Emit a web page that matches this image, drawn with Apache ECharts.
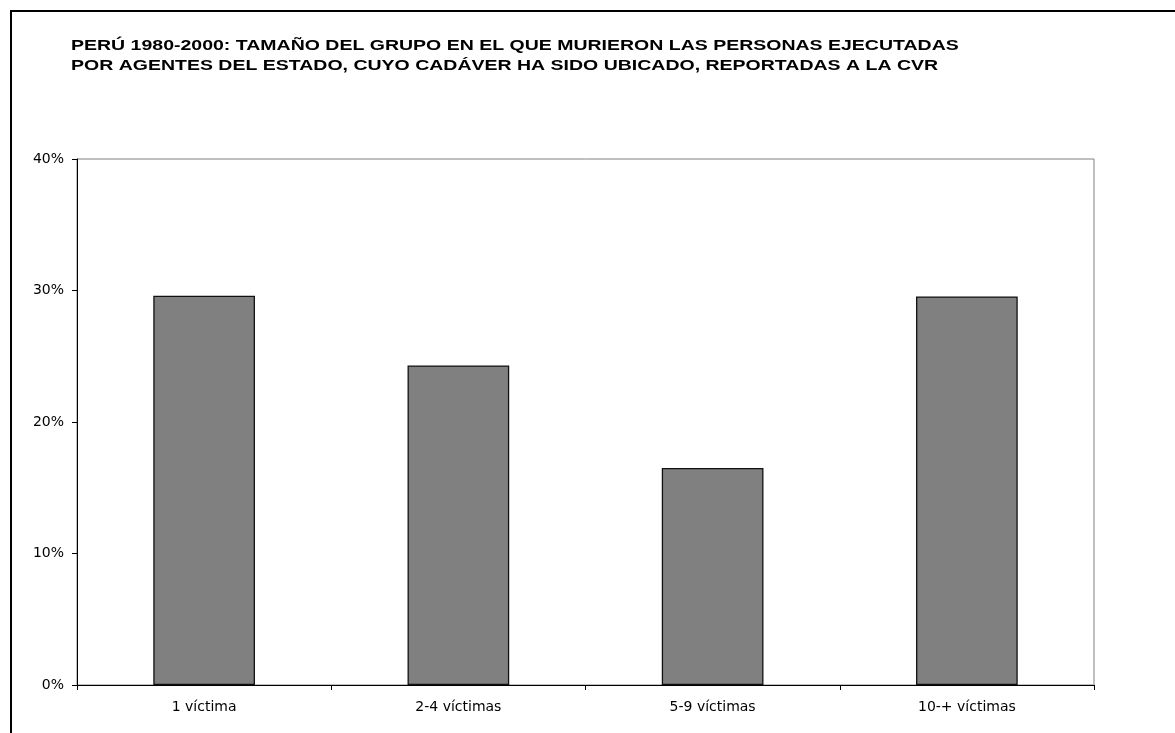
<!DOCTYPE html>
<html>
<head>
<meta charset="utf-8">
<script src="https://cdn.jsdelivr.net/npm/echarts@6/dist/echarts.min.js"></script>
<style>
	html, body { margin: 0; padding: 0; background: #fff; }
	#chart { width: 1175px; height: 733px; }
</style>
</head>
<body>
<div id="chart"></div>
<script>
	// categorias y porcentajes
	const categories = ['1 víctima', '2-4 víctimas', '5-9 víctimas', '10-+ víctimas'];
	const percentages = [29.6, 24.3, 16.5, 29.55];
	const yTicks = [0, 10, 20, 30, 40];
	const titleLines = [
		'PERÚ 1980-2000: TAMAÑO DEL GRUPO EN EL QUE MURIERON LAS PERSONAS EJECUTADAS',
		'POR AGENTES DEL ESTADO, CUYO CADÁVER HA SIDO UBICADO, REPORTADAS A LA CVR'
	];

	// el original usa una letra ancha, DejaVu se le parece
	const font = 'DejaVu Sans, Verdana, sans-serif';
	const chart = echarts.init(document.getElementById('chart'));

	chart.setOption({
		animation: false,
		backgroundColor: '#fff',
		graphic: [{
			// marco exterior del grafico
			type: 'rect',
			shape: { x: 11, y: 11, width: 1300, height: 900 },
			style: { fill: 'none', stroke: '#000', lineWidth: 2 },
			silent: true
		}, {
			// titulo: Arial estirado a lo ancho como en el original
			type: 'text',
			x: 71,
			y: 36,
			scaleX: 1.3,
			style: {
				text: titleLines.join('\n'),
				font: 'bold 15px "Liberation Sans", Arial, sans-serif',
				fill: '#000',
				lineHeight: 20,
				verticalAlign: 'top'
			},
			silent: true
		}],
		grid: {
			left: 77,
			right: 81,
			top: 159,
			bottom: 48,
			show: true,
			borderColor: '#808080',
			borderWidth: 1,
			containLabel: false
		},
		xAxis: {
			type: 'category',
			data: categories,
			axisLine: { lineStyle: { color: '#000', width: 1 } },
			axisTick: { show: true, length: 5, alignWithLabel: false, lineStyle: { color: '#000' } },
			axisLabel: {
				margin: 15,
				fontFamily: font,
				fontSize: 14,
				color: '#000'
			}
		},
		yAxis: {
			type: 'value',
			min: yTicks[0],
			max: yTicks[yTicks.length - 1],
			interval: 10,
			splitLine: { show: false },
			axisLine: { show: true, lineStyle: { color: '#000', width: 1 } },
			axisTick: { show: true, length: 5, lineStyle: { color: '#000' } },
			axisLabel: {
				margin: 13,
				fontFamily: font,
				fontSize: 14,
				color: '#000',
				formatter: '{value}%'
			}
		},
		series: [{
			type: 'bar',
			data: percentages,
			barCategoryGap: '60%',
			itemStyle: {
				color: '#808080',
				borderColor: '#111',
				borderWidth: 1.3
			}
		}]
	});
</script>
</body>
</html>
